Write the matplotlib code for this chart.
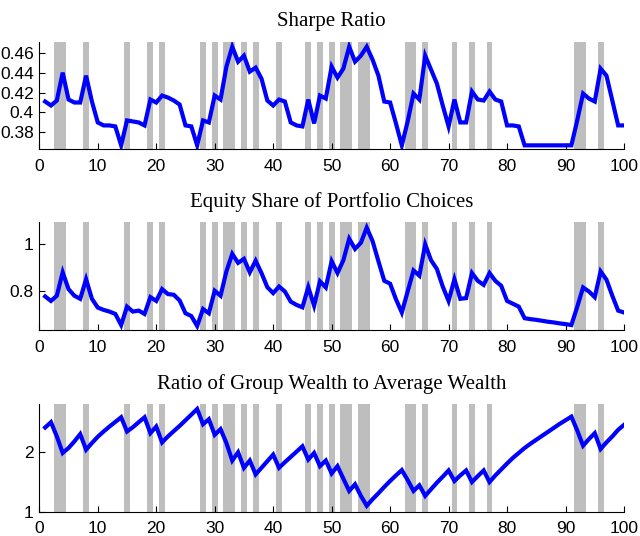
import matplotlib
matplotlib.use("Agg")
import matplotlib.pyplot as plt
import numpy as np
from matplotlib.ticker import FormatStrFormatter

# periods 1..100
periods = list(range(1, 101))

# shaded periods (bad states)
shaded = [3, 4, 8, 15, 19, 21, 28, 30, 32, 33, 35, 37, 41, 46, 48, 50, 52, 53,
          55, 56, 63, 64, 66, 71, 74, 77, 92, 93, 96]

sharpe = [0.411, 0.407, 0.412, 0.440, 0.413, 0.410, 0.410, 0.437, 0.411, 0.390,
          0.387, 0.387, 0.386, 0.367, 0.392, 0.391, 0.390, 0.387, 0.413, 0.410,
          0.417, 0.415, 0.412, 0.408, 0.387, 0.386, 0.367, 0.392, 0.390, 0.417,
          0.413, 0.446, 0.466, 0.451, 0.457, 0.441, 0.445, 0.434, 0.412, 0.407,
          0.413, 0.411, 0.390, 0.387, 0.386, 0.413, 0.389, 0.417, 0.414, 0.446,
          0.435, 0.444, 0.466, 0.451, 0.457, 0.466, 0.453, 0.437, 0.411, 0.410,
          0.389, 0.367, 0.391, 0.419, 0.413, 0.457, 0.443, 0.429, 0.407, 0.386,
          0.413, 0.390, 0.390, 0.421, 0.413, 0.412, 0.421, 0.413, 0.411, 0.387,
          0.387, 0.386, 0.367, 0.367, 0.367, 0.367, 0.367, 0.367, 0.367, 0.367,
          0.367, 0.392, 0.419, 0.414, 0.411, 0.444, 0.437, 0.412, 0.387, 0.387]

equity = [0.779, 0.760, 0.782, 0.881, 0.810, 0.782, 0.769, 0.852, 0.769, 0.732,
          0.722, 0.715, 0.705, 0.658, 0.736, 0.715, 0.719, 0.705, 0.776, 0.760,
          0.810, 0.789, 0.786, 0.762, 0.708, 0.696, 0.654, 0.726, 0.708, 0.803,
          0.782, 0.885, 0.959, 0.921, 0.938, 0.881, 0.930, 0.878, 0.818, 0.793,
          0.821, 0.800, 0.757, 0.743, 0.733, 0.818, 0.740, 0.843, 0.817, 0.928,
          0.878, 0.932, 1.023, 0.980, 1.006, 1.070, 1.013, 0.928, 0.845, 0.833,
          0.767, 0.711, 0.800, 0.889, 0.867, 0.999, 0.932, 0.895, 0.821, 0.760,
          0.852, 0.769, 0.772, 0.878, 0.845, 0.828, 0.878, 0.845, 0.824, 0.760,
          0.748, 0.736, 0.687, 0.683, 0.680, 0.676, 0.672, 0.669, 0.665, 0.662,
          0.658, 0.735, 0.817, 0.800, 0.776, 0.885, 0.850, 0.782, 0.719, 0.711]

wealth = [2.417, 2.506, 2.267, 1.989, 2.072, 2.183, 2.306, 2.044, 2.156, 2.261,
          2.350, 2.433, 2.511, 2.589, 2.350, 2.422, 2.506, 2.589, 2.322, 2.433,
          2.167, 2.267, 2.356, 2.444, 2.539, 2.633, 2.728, 2.472, 2.556, 2.294,
          2.389, 2.156, 1.861, 2.000, 1.739, 1.861, 1.628, 1.739, 1.850, 1.961,
          1.739, 1.833, 1.922, 2.011, 2.100, 1.878, 1.989, 1.767, 1.861, 1.644,
          1.767, 1.556, 1.350, 1.461, 1.267, 1.100, 1.211, 1.311, 1.417, 1.517,
          1.611, 1.700, 1.533, 1.350, 1.444, 1.267, 1.378, 1.489, 1.589, 1.694,
          1.517, 1.611, 1.694, 1.500, 1.600, 1.694, 1.500, 1.611, 1.711, 1.811,
          1.906, 1.989, 2.072, 2.144, 2.211, 2.278, 2.344, 2.411, 2.478, 2.539,
          2.600, 2.367, 2.111, 2.222, 2.322, 2.056, 2.167, 2.267, 2.378, 2.461]

titles = ["Sharpe Ratio", "Equity Share of Portfolio Choices",
          "Ratio of Group Wealth to Average Wealth"]
series = [sharpe, equity, wealth]
ylims = [(0.363, 0.471), (0.637, 1.092), (1.0, 2.81)]
yticks = [[0.38, 0.40, 0.42, 0.44, 0.46], [0.8, 1.0], [1, 2]]
bottoms = [0.7214, 0.3843, 0.0453]

tick_font = ["Liberation Sans Narrow", "Liberation Sans", "DejaVu Sans"]

fig = plt.figure(figsize=(6.4, 5.36), dpi=100)
for i in range(3):
    ax = fig.add_axes([0.0614, bottoms[i], 0.9136, 0.2007])
    for t in shaded:
        ax.axvspan(t - 0.5, t + 0.5, color="#bebebe", lw=0, zorder=1)
    ax.plot(periods, series[i], color="#0000ff", lw=3, zorder=3,
            solid_joinstyle="miter")
    ax.set_xlim(0, 100)
    ax.set_ylim(*ylims[i])
    ax.set_xticks(range(0, 101, 10))
    ax.set_yticks(yticks[i])
    ax.yaxis.set_major_formatter(FormatStrFormatter("%g"))
    ax.spines["top"].set_visible(False)
    ax.spines["right"].set_visible(False)
    for s in ("left", "bottom"):
        ax.spines[s].set_linewidth(0.8)
        ax.spines[s].set_zorder(4)
    ax.tick_params(direction="in", length=4, width=0.8, labelsize=12.5)
    ax.tick_params(axis="x", pad=7)
    ax.tick_params(axis="y", pad=4)
    for lab in ax.get_xticklabels() + ax.get_yticklabels():
        lab.set_family(tick_font)
    ax.set_title(titles[i], fontsize=15, family="Liberation Serif", pad=11)

fig.savefig("out.png", dpi=100)
